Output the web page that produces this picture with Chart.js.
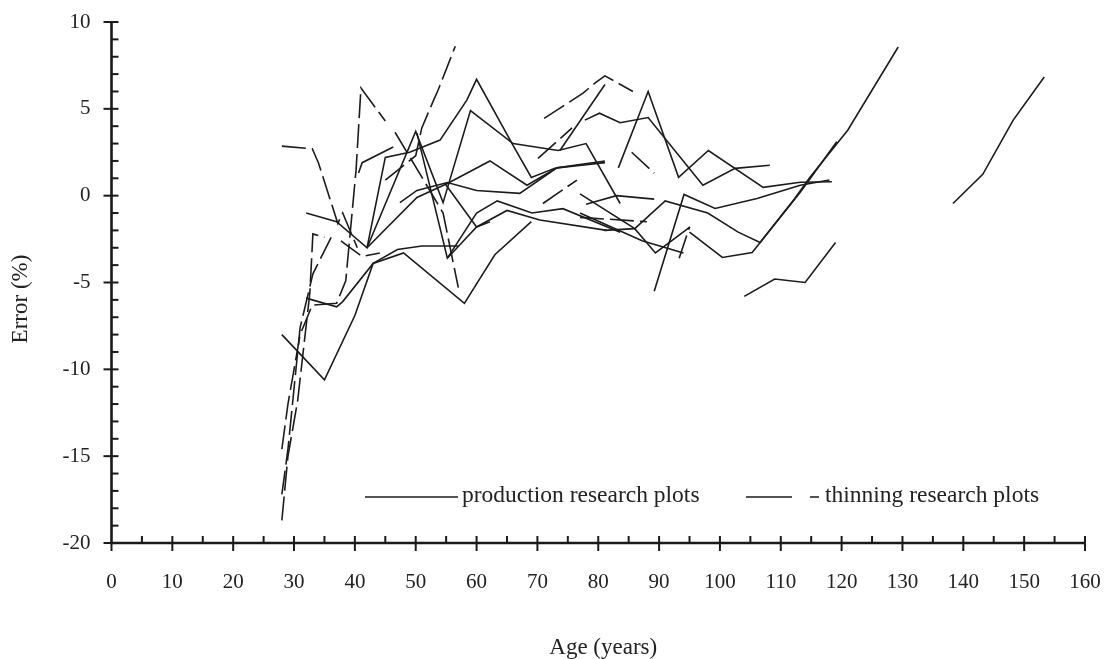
<!DOCTYPE html>
<html>
<head>
<meta charset="utf-8">
<script src="https://cdn.jsdelivr.net/npm/chart.js@4.4.1/dist/chart.umd.min.js"></script>
<style>
  body { margin: 0; background: #fff; }
  #wrap { width: 1107px; height: 659px; }
</style>
</head>
<body>
<div id="wrap"><canvas id="grafico" width="1107" height="659"></canvas></div>
<script>
// tick values
const xTicks = [0, 10, 20, 30, 40, 50, 60, 70, 80, 90, 100, 110, 120, 130, 140, 150, 160];
const yTicks = [-20, -15, -10, -5, 0, 5, 10];

// production research plots (solid) - age in years / error in %
const prodAges = [
  [28, 35, 40, 43, 48, 58, 63, 69],
  [32, 37, 38, 43, 47, 51, 57],
  [50.2, 55.2, 60, 65, 70.4, 81.4],
  [32, 37, 42, 45, 49, 54, 58.4, 60, 66, 69, 73],
  [42, 50, 54.5, 59, 66, 73.4, 78, 83.6],
  [42, 50.2, 55.2, 62.2, 68.3, 73.2, 81.1],
  [47.4, 50.2, 55.2, 60, 67.1, 73.2, 81.1],
  [55.2, 60, 63.4, 69.1, 74.2, 83.6],
  [83.3, 88.2, 93.2, 98.1, 107.1, 113.2, 118.4],
  [77.8, 80.2, 83.6, 88.2, 97.2, 102.5, 108.2],
  [89.2, 94.1, 99.2, 106.1, 113.2, 118],
  [95, 100.4, 105.3, 113.2, 119.2],
  [78, 83, 89.2],
  [81, 86, 91, 98, 103, 106.6, 112.3, 114.8, 121, 129.3],
  [104, 109, 114, 119],
  [138.3, 143.2, 148.2, 153.3],
  [77, 87.2, 94],
  [77, 86, 89.4, 95.1],
  [73.7, 81.1],
  [40.6, 41.2, 46.3],
  [54.8, 60, 62.2]
];
const prodErrors = [
  [-8.0, -10.6, -6.9, -3.9, -3.3, -6.2, -3.4, -1.5],
  [-5.9, -6.4, -6.1, -3.9, -3.1, -2.9, -2.9],
  [3.6, -3.6, -1.8, -0.85, -1.4, -2.0],
  [-1.0, -1.5, -3.0, 2.2, 2.5, 3.2, 5.5, 6.7, 2.9, 1.05, 1.6],
  [-3.0, 3.7, -0.4, 4.9, 3.0, 2.6, 3.0, -0.45],
  [-3.0, -0.1, 0.7, 2.0, 0.6, 1.6, 1.9],
  [-0.4, 0.3, 0.76, 0.3, 0.13, 1.6, 2.0],
  [-3.6, -1.0, -0.3, -1.0, -0.75, -2.1],
  [1.6, 6.0, 1.06, 2.6, 0.48, 0.77, 0.8],
  [4.35, 4.75, 4.2, 4.5, 0.6, 1.57, 1.75],
  [-5.5, 0.07, -0.74, -0.16, 0.6, 0.9],
  [-2.1, -3.56, -3.27, 0.2, 3.1],
  [-0.5, 0.0, -0.2],
  [-2.0, -1.9, -0.3, -1.0, -2.1, -2.7, -0.16, 1.06, 3.77, 8.56],
  [-5.8, -4.8, -5.0, -2.7],
  [-0.45, 1.23, 4.35, 6.83],
  [-1.0, -2.6, -3.3],
  [0.1, -1.9, -3.3, -1.8],
  [2.6, 6.4],
  [1.3, 1.9, 2.8],
  [0.7, -1.8, -1.5]
];

// thinning research plots (dashed)
const thinAges = [
  [28, 33, 34, 37.2, 38, 40.4],
  [28, 29, 30.6, 32.6, 33.1, 35],
  [28, 29, 31, 33.1, 36.1],
  [28, 29, 31, 33, 37, 38.5, 40.2, 41, 45],
  [37.7, 41.2, 44.1],
  [45, 50, 51, 52.7, 53.7, 56.5],
  [46.6, 51.8, 54.5, 57],
  [71.1, 77.5, 79.5, 81.1, 85.7],
  [70.1, 75.7],
  [70.9, 76.5],
  [85.5, 89.2],
  [93.3, 95],
  [77, 88]
];
const thinErrors = [
  [2.85, 2.7, 1.9, -1.6, -1.0, -3.0],
  [-18.7, -15, -11.8, -5.6, -2.2, -2.4],
  [-17.2, -14.6, -7.6, -4.5, -2.4],
  [-14.6, -12, -8, -6.3, -6.2, -4.9, 1.5, 6.2, 4.3],
  [-2.6, -3.5, -3.3],
  [0.9, 2.3, 3.9, 5.3, 6.1, 8.6],
  [3.65, 0.6, -1.0, -5.3],
  [4.45, 5.9, 6.5, 6.9, 6.0],
  [2.15, 3.9],
  [-0.45, 0.9],
  [2.5, 1.3],
  [-3.6, -1.8],
  [-1.25, -1.5]
];

const legendLabels = ["production research plots", "thinning research plots"];
const xTitle = "Age (years)";
const yTitle = "Error (%)";

const corLinha = "#1c1c1c";
const fonte = '"Liberation Serif", "DejaVu Serif", serif';

function montaDatasets(ages, errors, dash) {
  return ages.map((a, i) => ({
    data: a.map((x, j) => ({ x: x, y: errors[i][j] })),
    borderColor: corLinha,
    borderWidth: 1.6,
    borderDash: dash,
    pointRadius: 0,
    fill: false,
    tension: 0
  }));
}

const eixos = {
  id: "eixos",
  afterDraw(chart) {
    const ctx = chart.ctx;
    const x = chart.scales.x;
    const y = chart.scales.y;
    const x0 = x.getPixelForValue(0);
    const y0 = y.getPixelForValue(-20);
    ctx.save();
    ctx.strokeStyle = "#1a1a1a";
    ctx.fillStyle = "#222";

    // axis lines
    ctx.lineWidth = 2.6;
    ctx.beginPath();
    ctx.moveTo(x0, y.getPixelForValue(10));
    ctx.lineTo(x0, y0);
    ctx.lineTo(x.getPixelForValue(160), y0);
    ctx.stroke();

    // y ticks
    ctx.lineWidth = 2;
    for (let v = -19; v <= 10; v++) {
      const py = y.getPixelForValue(v);
      ctx.beginPath();
      if (v % 5 === 0) {
        ctx.moveTo(x0 - 8, py);
      } else {
        ctx.moveTo(x0, py);
      }
      ctx.lineTo(x0 + 7, py);
      ctx.stroke();
    }
    // x ticks
    for (let a = 5; a <= 160; a += 5) {
      const px = x.getPixelForValue(a);
      ctx.beginPath();
      ctx.moveTo(px, y0 - 7);
      ctx.lineTo(px, a % 10 === 0 ? y0 + 8 : y0);
      ctx.stroke();
    }
    ctx.beginPath();
    ctx.moveTo(x0 - 8, y0);
    ctx.lineTo(x0, y0);
    ctx.moveTo(x0, y0);
    ctx.lineTo(x0, y0 + 8);
    ctx.stroke();

    // tick labels
    ctx.font = "21px " + fonte;
    ctx.textAlign = "right";
    ctx.textBaseline = "middle";
    yTicks.forEach((v) => ctx.fillText(String(v), x0 - 21, y.getPixelForValue(v)));
    ctx.textAlign = "center";
    xTicks.forEach((a) => ctx.fillText(String(a), x.getPixelForValue(a), 582));

    // titles
    ctx.font = "23px " + fonte;
    ctx.fillText(xTitle, (x0 + x.getPixelForValue(160)) / 2 + 5, 648);
    ctx.save();
    ctx.translate(21, 299);
    ctx.rotate(-Math.PI / 2);
    ctx.fillText(yTitle, 0, 0);
    ctx.restore();

    // legend
    ctx.lineWidth = 1.6;
    ctx.strokeStyle = corLinha;
    ctx.beginPath();
    ctx.moveTo(365, 497);
    ctx.lineTo(458, 497);
    ctx.stroke();
    ctx.beginPath();
    ctx.moveTo(746, 497);
    ctx.lineTo(792, 497);
    ctx.moveTo(810, 497);
    ctx.lineTo(819, 497);
    ctx.stroke();
    ctx.textAlign = "left";
    ctx.font = "23.5px " + fonte;
    ctx.fillText(legendLabels[0], 462, 496);
    ctx.fillText(legendLabels[1], 825, 496);
    ctx.restore();
  }
};

new Chart(document.getElementById("grafico"), {
  type: "line",
  data: {
    datasets: montaDatasets(prodAges, prodErrors, []).concat(
      montaDatasets(thinAges, thinErrors, [24, 6])
    )
  },
  options: {
    responsive: false,
    animation: false,
    devicePixelRatio: 1,
    layout: { padding: { left: 111.5, right: 22, top: 22, bottom: 116 } },
    scales: {
      x: { type: "linear", min: 0, max: 160, display: false },
      y: { type: "linear", min: -20, max: 10, display: false }
    },
    plugins: {
      legend: { display: false },
      tooltip: { enabled: false }
    }
  },
  plugins: [eixos]
});
</script>
</body>
</html>
